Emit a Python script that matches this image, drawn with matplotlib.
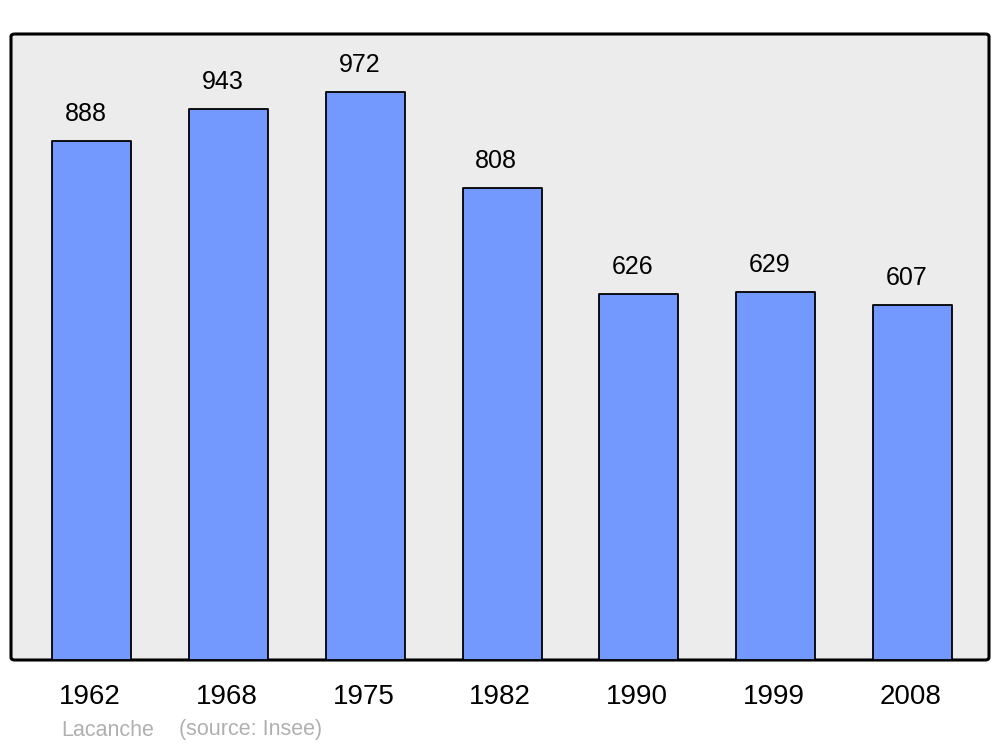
import matplotlib
matplotlib.use("Agg")
import matplotlib.pyplot as plt
from matplotlib.patches import FancyBboxPatch
from matplotlib.transforms import ScaledTranslation

years = ["1962", "1968", "1975", "1982", "1990", "1999", "2008"]
population = [888, 943, 972, 808, 626, 629, 607]
footer_name = "Lacanche"
footer_source = "(source: Insee)"

plt.rcParams['font.family'] = ['Liberation Sans', 'DejaVu Sans']

fig = plt.figure(figsize=(10, 7.47), dpi=100)
ax = fig.add_axes([11/1000, 1 - 660/747, 978/1000, 626/747])
ax.set_xlim(-0.592, 6.56)
ax.set_ylim(0, 1071)
for s in ax.spines.values():
    s.set_visible(False)
ax.patch.set_visible(False)

bg = FancyBboxPatch((0, 0), 1, 1, boxstyle="round,pad=0,rounding_size=0.004",
                    transform=ax.transAxes, facecolor="#ececec", edgecolor="black",
                    linewidth=2.2, zorder=0, clip_on=False)
ax.add_patch(bg)

x = list(range(len(years)))
bars = ax.bar(x, population, width=0.578, color="#7399ff", edgecolor="black",
              linewidth=1.3, zorder=2)
for b in bars:
    b.set_joinstyle('round')

for xi, v in zip(x, population):
    ax.annotate(str(v), (xi, v), xytext=(-4.3, 10.8), textcoords="offset points",
                ha="center", va="bottom", fontsize=18, color="black")

ax.set_xticks(x)
ax.set_xticklabels(years, fontsize=20)
ax.tick_params(axis='x', length=0, pad=17.5)
ax.set_yticks([])
for lab in ax.get_xticklabels():
    lab.set_transform(lab.get_transform() + ScaledTranslation(-2/100, 0, fig.dpi_scale_trans))

fig.text(61/1000, 1 - 730/747, footer_name, fontsize=15.5, color="#b0b0b0", va="center", ha="left")
fig.text(179/1000, 1 - 730/747, footer_source, fontsize=15.5, color="#b0b0b0", va="center", ha="left")

fig.savefig("out.png", dpi=100)
